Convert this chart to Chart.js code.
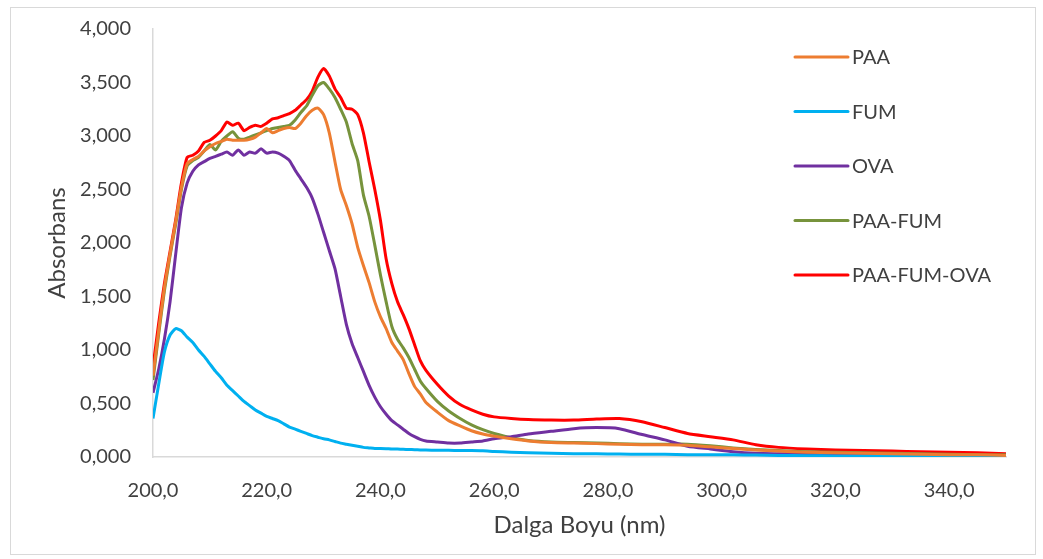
<!DOCTYPE html>
<html lang="tr">
<head>
  <meta charset="UTF-8" />
  <title>Absorbans - Dalga Boyu</title>
  <script src="https://cdn.jsdelivr.net/npm/chart.js"></script>
  <style>
    body {
      margin: 0;
      background: #ffffff;
    }
    #wrap {
      width: 1043px;
      height: 559px;
    }
  </style>
</head>
<body>
  <div id="wrap">
    <canvas id="uvChart" width="1043" height="559"></canvas>
  </div>

  <script>
    // wavelength (nm)
    const wavelengths = [
      200, 201, 202, 203, 204, 205, 206, 207, 208, 209,
      210, 211, 212, 213, 214, 215, 216, 217, 218, 219,
      220, 221, 222, 223, 224, 225, 226, 227, 228, 229,
      230, 231, 232, 233, 234, 235, 236, 237, 238, 239,
      240, 241, 242, 243, 244, 245, 246, 247, 248, 250,
      252, 254, 256, 258, 260, 263, 266, 270, 274, 278,
      282, 286, 290, 294, 298, 302, 306, 310, 315, 320,
      325, 330, 335, 340, 345, 350
    ];

    const paa = [
      0.76, 1.18, 1.58, 1.90, 2.20, 2.52, 2.74, 2.78, 2.81, 2.86,
      2.90, 2.93, 2.95, 2.97, 2.96, 2.96, 2.96, 2.97, 2.99, 3.03,
      3.07, 3.03, 3.05, 3.07, 3.08, 3.07, 3.12, 3.19, 3.24, 3.26,
      3.20, 3.03, 2.76, 2.50, 2.35, 2.18, 1.96, 1.79, 1.63, 1.45,
      1.31, 1.20, 1.07, 0.99, 0.91, 0.78, 0.66, 0.59, 0.51, 0.42,
      0.34, 0.29, 0.245, 0.215, 0.195, 0.17, 0.15, 0.135, 0.13, 0.125,
      0.12, 0.115, 0.115, 0.11, 0.095, 0.08, 0.065, 0.055, 0.045, 0.04,
      0.035, 0.03, 0.025, 0.02, 0.02, 0.015
    ];

    const fum = [
      0.36, 0.68, 0.98, 1.14, 1.20, 1.18, 1.12, 1.07, 1.00, 0.94,
      0.87, 0.80, 0.74, 0.67, 0.62, 0.57, 0.52, 0.48, 0.44, 0.41,
      0.38, 0.36, 0.34, 0.31, 0.28, 0.26, 0.24, 0.22, 0.20, 0.185,
      0.17, 0.16, 0.145, 0.13, 0.12, 0.11, 0.10, 0.09, 0.085, 0.08,
      0.08, 0.078, 0.075, 0.074, 0.072, 0.07, 0.068, 0.066, 0.065, 0.063,
      0.062, 0.06, 0.06, 0.058, 0.052, 0.045, 0.04, 0.035, 0.03, 0.03,
      0.028, 0.025, 0.025, 0.022, 0.02, 0.02, 0.018, 0.015, 0.012, 0.01,
      0.01, 0.01, 0.008, 0.008, 0.005, 0.005
    ];

    const ova = [
      0.60, 0.82, 1.10, 1.45, 1.90, 2.33, 2.56, 2.67, 2.73, 2.76,
      2.79, 2.81, 2.83, 2.85, 2.82, 2.87, 2.82, 2.85, 2.84, 2.88,
      2.84, 2.85, 2.84, 2.81, 2.77, 2.68, 2.60, 2.52, 2.42, 2.27,
      2.10, 1.93, 1.76, 1.50, 1.24, 1.06, 0.93, 0.80, 0.67, 0.56,
      0.47, 0.40, 0.34, 0.30, 0.26, 0.22, 0.19, 0.165, 0.15, 0.14,
      0.13, 0.13, 0.14, 0.15, 0.17, 0.19, 0.215, 0.24, 0.265, 0.275,
      0.265, 0.21, 0.16, 0.10, 0.075, 0.05, 0.035, 0.03, 0.025, 0.02,
      0.02, 0.015, 0.015, 0.01, 0.01, 0.01
    ];

    const paaFum = [
      0.72, 1.15, 1.55, 1.88, 2.18, 2.50, 2.72, 2.77, 2.80, 2.86,
      2.92, 2.87, 2.95, 3.00, 3.04, 2.98, 2.97, 2.99, 3.01, 3.03,
      3.05, 3.07, 3.08, 3.09, 3.10, 3.15, 3.22, 3.28, 3.38, 3.47,
      3.50, 3.44, 3.36, 3.25, 3.13, 2.93, 2.77, 2.45, 2.25, 1.98,
      1.70, 1.45, 1.22, 1.10, 1.02, 0.93, 0.82, 0.71, 0.64, 0.52,
      0.43, 0.36, 0.30, 0.255, 0.22, 0.18, 0.155, 0.14, 0.135, 0.13,
      0.125, 0.12, 0.12, 0.12, 0.105, 0.085, 0.07, 0.06, 0.05, 0.045,
      0.04, 0.035, 0.03, 0.025, 0.02, 0.02
    ];

    const paaFumOva = [
      0.84, 1.25, 1.62, 1.92, 2.22, 2.56, 2.80, 2.82, 2.86, 2.94,
      2.96, 3.00, 3.05, 3.13, 3.10, 3.12, 3.05, 3.08, 3.10, 3.09,
      3.12, 3.16, 3.17, 3.19, 3.21, 3.24, 3.29, 3.34, 3.42, 3.55,
      3.63, 3.56, 3.44, 3.36, 3.26, 3.25, 3.20, 3.03, 2.76, 2.50,
      2.21, 1.85, 1.62, 1.45, 1.33, 1.20, 1.05, 0.90, 0.81, 0.68,
      0.57, 0.49, 0.44, 0.40, 0.375, 0.36, 0.35, 0.345, 0.345, 0.355,
      0.36, 0.33, 0.275, 0.22, 0.19, 0.16, 0.115, 0.09, 0.075, 0.065,
      0.06, 0.055, 0.05, 0.045, 0.04, 0.03
    ];

    const seriesNames = ['PAA', 'FUM', 'OVA', 'PAA-FUM', 'PAA-FUM-OVA'];
    const seriesValues = [paa, fum, ova, paaFum, paaFumOva];
    const seriesColors = ['#ED7D31', '#00B0F0', '#7030A0', '#77933C', '#FF0000'];

    const FONT = "Lato, 'Open Sans', sans-serif";
    const TEXT = '#404040';
    const AXIS = '#d9d9d9';

    const commaFixed = (v, d) => v.toFixed(d).replace('.', ',');

    const datasets = seriesNames.map((name, i) => ({
      label: name,
      data: wavelengths.map((w, j) => ({ x: w, y: seriesValues[i][j] })),
      borderColor: seriesColors[i],
      backgroundColor: seriesColors[i],
      borderWidth: 3,
      pointRadius: 0,
      tension: 0.2,
      fill: false
    }));

    // frame around the whole picture + legend drawn on top of the plot
    const frameAndLegend = {
      id: 'frameAndLegend',
      beforeDraw(chart) {
        const ctx = chart.ctx;
        ctx.save();
        ctx.strokeStyle = AXIS;
        ctx.lineWidth = 1;
        ctx.strokeRect(10.5, 7.5, 1025, 547);
        ctx.restore();
      },
      afterDraw(chart) {
        const ctx = chart.ctx;
        const area = chart.chartArea;
        ctx.save();
        ctx.font = '20px ' + FONT;
        ctx.textBaseline = 'middle';
        ctx.textAlign = 'left';
        chart.data.datasets.forEach((ds, i) => {
          const y = area.top + 28 + i * 54.5;
          const x0 = area.left + 642;
          ctx.strokeStyle = ds.borderColor;
          ctx.lineWidth = 3;
          ctx.lineCap = 'round';
          ctx.beginPath();
          ctx.moveTo(x0, y);
          ctx.lineTo(x0 + 53, y);
          ctx.stroke();
          ctx.fillStyle = TEXT;
          ctx.fillText(ds.label, x0 + 57, y + 1);
        });
        ctx.restore();
      }
    };

    new Chart(document.getElementById('uvChart'), {
      type: 'line',
      data: { datasets },
      plugins: [frameAndLegend],
      options: {
        responsive: false,
        animation: false,
        devicePixelRatio: 1,
        layout: { padding: { left: 10, right: 37, top: 29, bottom: 6 } },
        plugins: {
          legend: { display: false },
          tooltip: { enabled: false }
        },
        scales: {
          x: {
            type: 'linear',
            min: 200,
            max: 350,
            afterFit(scale) { scale.height = 96; },
            grid: { display: false, drawTicks: false },
            border: { display: true, color: AXIS, width: 1.5 },
            ticks: {
              stepSize: 20,
              includeBounds: false,
              autoSkip: false,
              maxRotation: 0,
              padding: 22,
              color: TEXT,
              font: { family: FONT, size: 20 },
              callback: (v) => commaFixed(v, 1)
            },
            title: {
              display: true,
              text: 'Dalga Boyu (nm)',
              color: TEXT,
              font: { family: FONT, size: 24 },
              padding: { top: 0, bottom: 13 }
            }
          },
          y: {
            min: 0,
            max: 4,
            afterFit(scale) {
              scale.width = 143;
              scale.paddingTop = 12;
              scale.paddingBottom = 12;
            },
            grid: { display: false, drawTicks: false },
            border: { display: true, color: AXIS, width: 1.5 },
            ticks: {
              stepSize: 0.5,
              padding: 22,
              color: TEXT,
              font: { family: FONT, size: 20 },
              callback: (v) => commaFixed(v, 3)
            },
            title: {
              display: true,
              text: 'Absorbans',
              color: TEXT,
              font: { family: FONT, size: 24 },
              padding: { top: 33, bottom: 0 }
            }
          }
        }
      }
    });
  </script>
</body>
</html>
